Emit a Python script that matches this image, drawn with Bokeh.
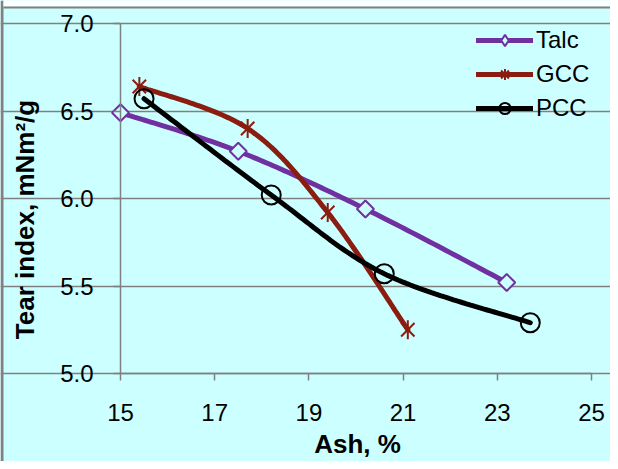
import numpy as np
from bokeh.plotting import figure
from bokeh.models import (Range1d, FixedTicker, NumeralTickFormatter, Legend, LegendItem,
                          Label, BoxAnnotation)
from bokeh.embed import file_html
from bokeh.resources import INLINE

# ---- data ----
talc_x = [15.0, 17.5, 20.2, 23.2]
talc_y = [6.49, 6.27, 5.94, 5.52]
gcc_x = [15.4, 17.7, 19.4, 21.1]
gcc_y = [6.64, 6.40, 5.92, 5.25]
pcc_x = [15.5, 18.2, 20.6, 23.7]
pcc_y = [6.57, 6.02, 5.57, 5.29]
x_ticks = [15, 17, 19, 21, 23, 25]
y_ticks = [5.0, 5.5, 6.0, 6.5, 7.0]

TALC = "#7030a0"
GCC = "#8b1d10"
PCC = "#000000"
BG = "#ccffff"
GRID = "#808080"
FONT = "Liberation Sans"

# ---- layout (pixels); the frame fills the whole canvas, axes sit at fixed locations ----
W, H = 610, 461
X_MIN, X_MAX, Y_MIN, Y_MAX = 15.0, 25.0, 5.0, 7.0
PX_L, PX_R = 120, 591      # columns of x=15 and x=25
PX_T, PX_B = 23, 373       # rows of y=7.0 and y=5.0
sx_ = (PX_R - PX_L) / (X_MAX - X_MIN)
sy_ = (PX_B - PX_T) / (Y_MAX - Y_MIN)
x_range = Range1d(X_MIN - PX_L / sx_, X_MAX + (W - PX_R) / sx_)
y_range = Range1d(Y_MIN - (H - PX_B) / sy_, Y_MAX + PX_T / sy_)


def smooth(xs, ys, n=40):
    """Excel-like smoothed path (Catmull-Rom Bezier) through the data points."""
    P = np.column_stack([xs, ys]).astype(float)
    m = len(P)
    out = []
    for i in range(m - 1):
        p0 = P[i - 1] if i > 0 else P[i]
        p1 = P[i]
        p2 = P[i + 1]
        p3 = P[i + 2] if i + 2 < m else P[i + 1]
        c1 = p1 + (p2 - p0) / 6.0
        c2 = p2 - (p3 - p1) / 6.0
        t = np.linspace(0, 1, n)[:, None]
        seg = ((1 - t) ** 3) * p1 + 3 * ((1 - t) ** 2) * t * c1 + 3 * (1 - t) * t ** 2 * c2 + t ** 3 * p2
        out.append(seg if i == 0 else seg[1:])
    a = np.vstack(out)
    return a[:, 0], a[:, 1]


p = figure(width=W, height=H, output_backend="svg", toolbar_location=None,
           x_range=x_range, y_range=y_range,
           min_border_left=0, min_border_right=0, min_border_top=0, min_border_bottom=0)
p.background_fill_color = BG
p.border_fill_color = BG
p.outline_line_color = None

# grid
p.xgrid.visible = False
p.ygrid.ticker = FixedTicker(ticks=y_ticks)
p.ygrid.bounds = (X_MIN, X_MAX)
p.ygrid.grid_line_color = GRID
p.ygrid.grid_line_width = 1.5

# axes
for ax in (p.xaxis[0], p.yaxis[0]):
    ax.axis_line_color = GRID
    ax.axis_line_width = 1.5
    ax.major_tick_line_color = GRID
    ax.major_tick_line_width = 1.5
    ax.major_tick_out = 7
    ax.major_tick_in = 0
    ax.minor_tick_line_color = None
    ax.major_label_text_font = FONT
    ax.major_label_text_font_size = "24px"
    ax.major_label_text_color = "black"

p.xaxis.fixed_location = Y_MIN
p.yaxis.fixed_location = X_MIN
p.xaxis.bounds = (X_MIN, X_MAX)
p.yaxis.bounds = (Y_MIN, Y_MAX)
p.xaxis.ticker = FixedTicker(ticks=x_ticks)
p.yaxis.ticker = FixedTicker(ticks=y_ticks)
p.yaxis.formatter = NumeralTickFormatter(format="0.0")
p.xaxis.major_label_standoff = 23
p.yaxis.major_label_standoff = 20

# axis titles
p.add_layout(Label(x=357, y=H - 443, x_units="screen", y_units="screen", text="Ash, %",
                   text_align="center", text_baseline="middle",
                   text_font=FONT, text_font_size="26px", text_font_style="bold",
                   text_color="black"))
p.add_layout(Label(x=24, y=H - 219, x_units="screen", y_units="screen",
                   text="Tear index, mNm²/g", angle=np.pi / 2,
                   text_align="center", text_baseline="middle",
                   text_font=FONT, text_font_size="26px", text_font_style="bold",
                   text_color="black"))

# chart-area edge (gray left edge, white strip with gray line on top)
p.add_layout(BoxAnnotation(left=0, right=3, bottom=0, top=H, left_units="screen",
                           right_units="screen", bottom_units="screen", top_units="screen",
                           fill_color="#808080", fill_alpha=1, line_color=None))
p.add_layout(BoxAnnotation(left=3, right=W, bottom=H - 6, top=H, left_units="screen",
                           right_units="screen", bottom_units="screen", top_units="screen",
                           fill_color="white", fill_alpha=1, line_color=None))
p.add_layout(BoxAnnotation(left=3, right=W, bottom=H - 8, top=H - 6, left_units="screen",
                           right_units="screen", bottom_units="screen", top_units="screen",
                           fill_color="#808080", fill_alpha=1, line_color=None))

nan = np.array([np.nan])

# series
sx, sy = smooth(talc_x, talc_y)
r_tl = p.line(sx, sy, line_color=TALC, line_width=5, line_cap="round")
p.scatter(talc_x, talc_y, marker="square", angle=np.pi / 4, size=12,
          line_color=TALC, line_width=2, fill_color=BG)
r_tm = p.scatter(nan, nan, marker="diamond", size=16, line_color=TALC, line_width=2, fill_color=BG)

sx, sy = smooth(gcc_x, gcc_y)
r_gl = p.line(sx, sy, line_color=GCC, line_width=5, line_cap="round")
r_gx = p.scatter(gcc_x, gcc_y, marker="x", size=19, line_color=GCC, line_width=2)
p.scatter(gcc_x, gcc_y, marker="dash", angle=np.pi / 2, size=19, line_color=GCC, line_width=2)
r_gc = p.scatter(nan, nan, marker="cross", size=19, line_color=GCC, line_width=2)

sx, sy = smooth(pcc_x, pcc_y)
r_pl = p.line(sx, sy, line_color=PCC, line_width=5, line_cap="round")
r_pm = p.scatter(pcc_x, pcc_y, marker="circle", size=19, line_color=PCC, line_width=2,
                 fill_alpha=0)

lg = Legend(items=[LegendItem(label="Talc", renderers=[r_tl, r_tm]),
                   LegendItem(label="GCC", renderers=[r_gl, r_gx, r_gc]),
                   LegendItem(label="PCC", renderers=[r_pl, r_pm])])
lg.location = (476, 339)
lg.padding = 0
lg.margin = 0
lg.spacing = 6
lg.glyph_width = 57
lg.glyph_height = 28
lg.label_height = 28
lg.label_width = 60
lg.label_standoff = 3
lg.label_text_font = FONT
lg.label_text_font_size = "24px"
lg.label_text_color = "black"
lg.background_fill_alpha = 0
lg.border_line_color = None
p.add_layout(lg)

open("out.html", "w").write(file_html(p, INLINE))
